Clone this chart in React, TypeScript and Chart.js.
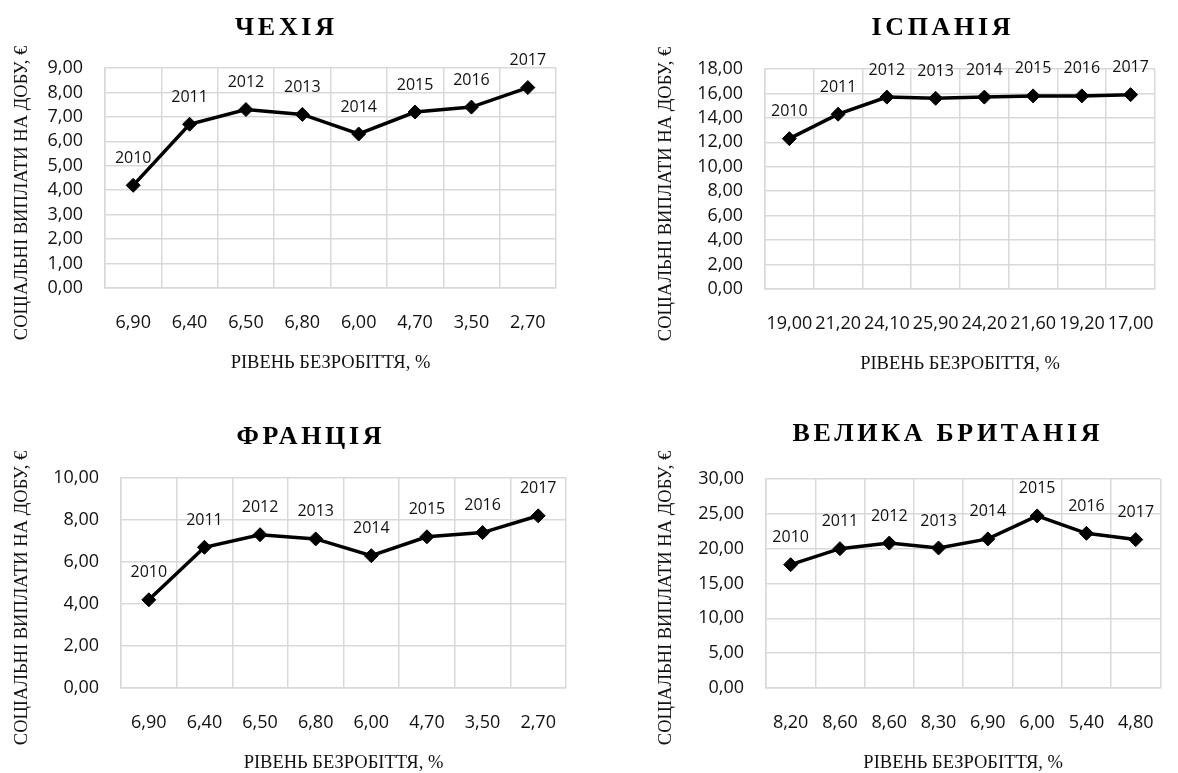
import { useEffect, useRef } from 'react';
import { Chart, registerables } from 'chart.js';

Chart.register(...registerables);

// ---------- DATA ----------
const years = ['2010', '2011', '2012', '2013', '2014', '2015', '2016', '2017'];

const czechUnemployment = [6.9, 6.4, 6.5, 6.8, 6.0, 4.7, 3.5, 2.7];
const czechPayments = [4.2, 6.7, 7.3, 7.1, 6.3, 7.2, 7.4, 8.2];

const spainUnemployment = [19.0, 21.2, 24.1, 25.9, 24.2, 21.6, 19.2, 17.0];
const spainPayments = [12.3, 14.3, 15.7, 15.6, 15.7, 15.8, 15.8, 15.9];

const franceUnemployment = [6.9, 6.4, 6.5, 6.8, 6.0, 4.7, 3.5, 2.7];
const francePayments = [4.2, 6.7, 7.3, 7.1, 6.3, 7.2, 7.4, 8.2];

const ukUnemployment = [8.2, 8.6, 8.6, 8.3, 6.9, 6.0, 5.4, 4.8];
const ukPayments = [17.7, 20.0, 20.8, 20.1, 21.4, 24.7, 22.2, 21.3];

const chartTitles = ['ЧЕХІЯ', 'ІСПАНІЯ', 'ФРАНЦІЯ', 'ВЕЛИКА БРИТАНІЯ'];
const yAxisTitle = 'СОЦІАЛЬНІ ВИПЛАТИ НА ДОБУ, €';
const xAxisTitle = 'РІВЕНЬ БЕЗРОБІТТЯ, %';
const yMaxima = [9, 18, 10, 30];
const ySteps = [1, 2, 2, 5];

// ---------- LAYOUT ----------
type Layout = {
  left: number; top: number; width: number; height: number;
  plotLeft: number; plotRight: number; plotTop: number; plotBottom: number;
  titleX: number; titleY: number; yTitleX: number; yTitleY: number;
};

const layouts: Layout[] = [
  { left: 0, top: 0, width: 589, height: 386, plotLeft: 105, plotRight: 556, plotTop: 68, plotBottom: 288, titleX: 284.5, titleY: 28, yTitleX: 22, yTitleY: 193 },
  { left: 589, top: 0, width: 589, height: 386, plotLeft: 176, plotRight: 588, plotTop: 69, plotBottom: 289, titleX: 352, titleY: 28, yTitleX: 77, yTitleY: 194 },
  { left: 0, top: 386, width: 589, height: 387, plotLeft: 121, plotRight: 566, plotTop: 92, plotBottom: 302, titleX: 309, titleY: 51, yTitleX: 22, yTitleY: 212 },
  { left: 589, top: 386, width: 589, height: 387, plotLeft: 177, plotRight: 587, plotTop: 93, plotBottom: 302, titleX: 357, titleY: 48, yTitleX: 77, yTitleY: 212 },
];

const SANS = '"Open Sans", "Noto Sans", sans-serif';
const SERIF = '"Liberation Serif", "DejaVu Serif", serif';
const TEXT = '#111111';
const GRID = '#d9d9d9';
const TITLE_SPACING = 3.7;

const fmt = (v: number) => v.toFixed(2).replace('.', ',');

function ChartPanel({ idx, unemployment, payments }: { idx: number; unemployment: number[]; payments: number[] }) {
  const ref = useRef<HTMLCanvasElement | null>(null);
  const L = layouts[idx];

  useEffect(() => {
    if (!ref.current) return;
    const labelsPlugin = {
      id: 'labelsPlugin' + idx,
      afterDatasetsDraw(chart: any) {
        const ctx = chart.ctx as CanvasRenderingContext2D;
        const meta = chart.getDatasetMeta(0);
        ctx.save();
        ctx.font = `16px ${SANS}`;
        ctx.fillStyle = TEXT;
        ctx.textAlign = 'center';
        ctx.textBaseline = 'middle';
        meta.data.forEach((pt: any, i: number) => {
          ctx.fillText(years[i], pt.x, pt.y - 27);
        });
        ctx.restore();
      },
      afterDraw(chart: any) {
        const ctx = chart.ctx as CanvasRenderingContext2D;
        const area = chart.chartArea;
        ctx.save();
        // title with letter spacing
        ctx.font = `bold 26px ${SERIF}`;
        (ctx as any).letterSpacing = TITLE_SPACING + 'px';
        ctx.fillStyle = '#000';
        ctx.textAlign = 'left';
        ctx.textBaseline = 'middle';
        const t = chartTitles[idx];
        const w = ctx.measureText(t).width - TITLE_SPACING;
        ctx.fillText(t, L.titleX - w / 2, L.titleY);
        (ctx as any).letterSpacing = '0px';
        // x axis title
        ctx.font = `18.5px ${SERIF}`;
        ctx.fillStyle = TEXT;
        ctx.textAlign = 'center';
        ctx.fillText(xAxisTitle, (area.left + area.right) / 2, area.bottom + 75);
        // y axis title
        ctx.translate(L.yTitleX, L.yTitleY);
        ctx.rotate(-Math.PI / 2);
        ctx.fillText(yAxisTitle, 0, 0);
        ctx.restore();
      },
    };

    const chart = new Chart(ref.current, {
      type: 'line',
      data: {
        labels: unemployment.map(fmt),
        datasets: [
          {
            data: payments,
            borderColor: '#000',
            borderWidth: 3.5,
            pointStyle: 'rectRot',
            pointRadius: 7,
            pointBackgroundColor: '#000',
            pointBorderColor: '#000',
            pointBorderWidth: 1,
            tension: 0,
            fill: false,
          },
        ],
      },
      options: {
        animation: false,
        responsive: false,
        maintainAspectRatio: false,
        devicePixelRatio: 1,
        layout: { padding: { top: L.plotTop, right: L.width - L.plotRight, left: 0, bottom: 0 } },
        plugins: { legend: { display: false }, tooltip: { enabled: false }, title: { display: false } },
        scales: {
          x: {
            type: 'category',
            offset: true,
            grid: { offset: true, color: GRID, lineWidth: 1.5, drawTicks: false },
            border: { color: GRID, width: 1.5 },
            ticks: { font: { family: SANS, size: 18 }, color: TEXT, padding: 24, maxRotation: 0, autoSkip: false },
            afterFit: (s: any) => { s.height = L.height - L.plotBottom; },
          },
          y: {
            min: 0,
            max: yMaxima[idx],
            grid: { color: GRID, lineWidth: 1.5, drawTicks: false },
            border: { color: GRID, width: 1.5 },
            ticks: {
              stepSize: ySteps[idx],
              autoSkip: false,
              font: { family: SANS, size: 18 },
              color: TEXT,
              padding: 22,
              callback: (v: any) => fmt(Number(v)),
            },
            afterFit: (s: any) => { s.width = L.plotLeft; },
          },
        },
      },
      plugins: [labelsPlugin],
    } as any);
    return () => chart.destroy();
  }, []);

  return (
    <canvas
      ref={ref}
      width={L.width}
      height={L.height}
      style={{ position: 'absolute', left: L.left, top: L.top, width: L.width, height: L.height }}
    />
  );
}

export default function App() {
  return (
    <div style={{ position: 'fixed', left: 0, top: 0, width: 1178, height: 773, background: '#fff', overflow: 'hidden' }}>
      <ChartPanel idx={0} unemployment={czechUnemployment} payments={czechPayments} />
      <ChartPanel idx={1} unemployment={spainUnemployment} payments={spainPayments} />
      <ChartPanel idx={2} unemployment={franceUnemployment} payments={francePayments} />
      <ChartPanel idx={3} unemployment={ukUnemployment} payments={ukPayments} />
    </div>
  );
}
